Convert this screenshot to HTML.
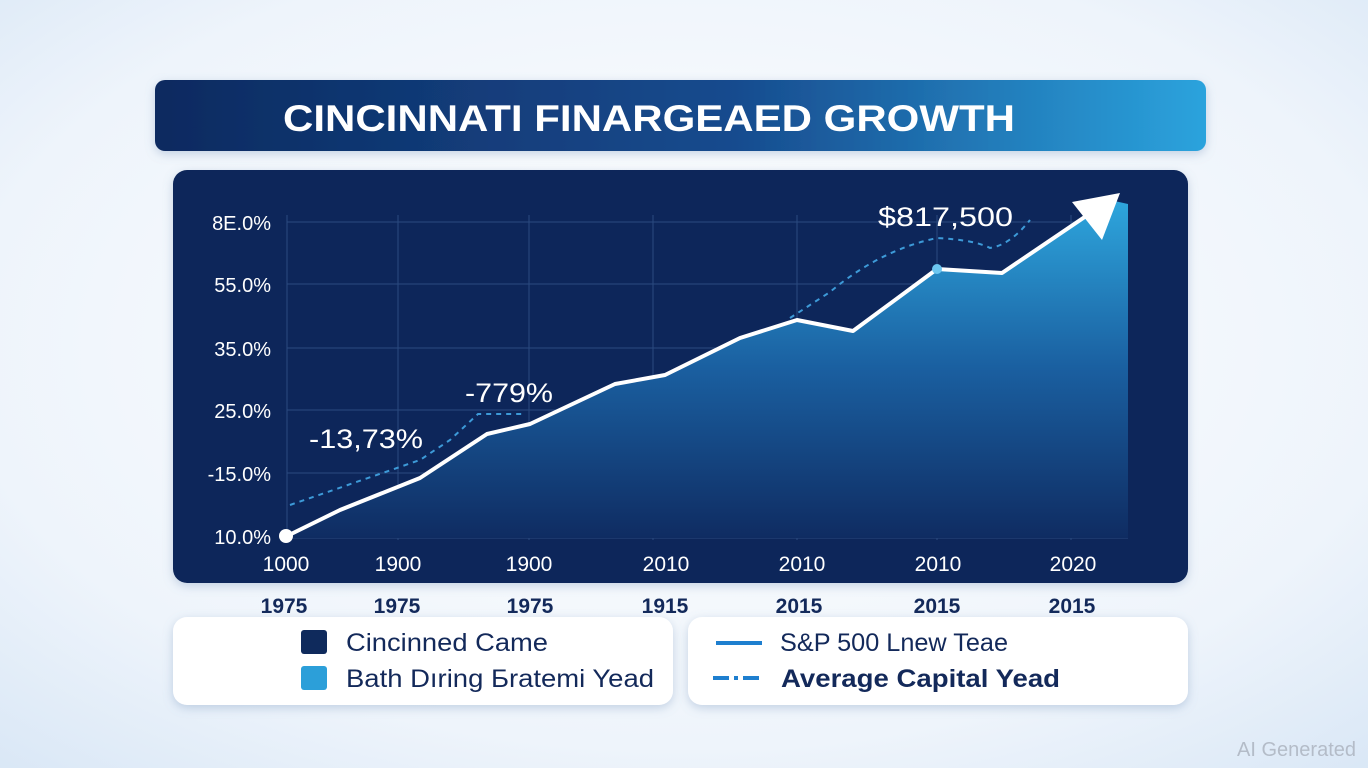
<!DOCTYPE html>
<html><head><meta charset="utf-8"><style>
body{margin:0;width:1368px;height:768px;overflow:hidden;font-family:"Liberation Sans",sans-serif;}
</style></head><body>
<svg width="1368" height="768" viewBox="0 0 1368 768" xmlns="http://www.w3.org/2000/svg">
<defs>
<radialGradient id="bg" cx="0.5" cy="0.45" r="0.75"><stop offset="0" stop-color="#ffffff"/><stop offset="0.7" stop-color="#eef4fb"/><stop offset="1" stop-color="#d9e7f6"/></radialGradient>
<linearGradient id="tb" x1="0" x2="1"><stop offset="0" stop-color="#0c2a60"/><stop offset="0.55" stop-color="#174b8e"/><stop offset="1" stop-color="#2ba3dd"/></linearGradient>
<linearGradient id="area" x1="0" y1="0" x2="0" y2="1"><stop offset="0" stop-color="#2ea6dd"/><stop offset="0.5" stop-color="#1a5fa0"/><stop offset="1" stop-color="#0f2c62"/></linearGradient>
<filter id="sh" x="-5%" y="-10%" width="110%" height="130%"><feDropShadow dx="0" dy="3" stdDeviation="5" flood-color="#6b8bb5" flood-opacity="0.35"/></filter>
</defs>
<rect width="1368" height="768" fill="url(#bg)"/>
<rect x="155" y="80" width="1051" height="71" rx="10" fill="url(#tb)" filter="url(#sh)"/>
<text x="283" y="131" fill="#fff" font-size="37" font-weight="bold" textLength="732" lengthAdjust="spacingAndGlyphs">CINCINNATI FINARGEAED GROWTH</text>
<rect x="173" y="170" width="1015" height="413" rx="14" fill="#0e285a" filter="url(#sh)"/>
<g stroke="#2a4a80" stroke-width="1">
<line x1="287" y1="215" x2="287" y2="540"/><line x1="398" y1="215" x2="398" y2="540"/><line x1="529" y1="215" x2="529" y2="540"/><line x1="653" y1="215" x2="653" y2="540"/><line x1="797" y1="215" x2="797" y2="540"/><line x1="937" y1="215" x2="937" y2="540"/><line x1="1071" y1="215" x2="1071" y2="540"/>
<line x1="287" y1="222" x2="1128" y2="222"/><line x1="287" y1="284" x2="1128" y2="284"/><line x1="287" y1="348" x2="1128" y2="348"/><line x1="287" y1="410" x2="1128" y2="410"/><line x1="287" y1="473" x2="1128" y2="473"/><line x1="287" y1="538" x2="1128" y2="538"/>
</g>
<path d="M287,536 L340,510 L420,478 L487,434 L530,424 L615,384 L665,375 L740,338 L797,320 L853,331 L937,269 L1002,273 L1110,200 L1128,204 L1128,538 L287,538 Z" fill="url(#area)"/>
<g fill="none" stroke="#3d9ad8" stroke-width="2" stroke-dasharray="5,5">
<path d="M290,505 L420,460 L450,440 L478,414 L525,414"/>
<path d="M790,318 L830,292 Q880,250 937,238 Q975,240 990,248 Q1010,245 1030,220"/>
</g>
<path d="M287,536 L340,510 L420,478 L487,434 L530,424 L615,384 L665,375 L740,338 L797,320 L853,331 L937,269 L1002,273 L1095,210" fill="none" stroke="#fff" stroke-width="4" stroke-linejoin="round"/>
<polygon points="1120,193 1072,202 1102,240" fill="#fff"/>
<circle cx="286" cy="536" r="7" fill="#fff"/>
<circle cx="937" cy="269" r="5" fill="#6cc6f0"/>
<g fill="#fff" font-size="20" text-anchor="end">
<text x="271" y="230">8E.0%</text><text x="271" y="292">55.0%</text><text x="271" y="356">35.0%</text><text x="271" y="418">25.0%</text><text x="271" y="481">-15.0%</text><text x="271" y="544">10.0%</text>
</g>
<g fill="#fff" font-size="27">
<text x="309" y="448" textLength="114" lengthAdjust="spacingAndGlyphs">-13,73%</text><text x="465" y="402" textLength="88" lengthAdjust="spacingAndGlyphs">-779%</text><text x="878" y="226" textLength="135" lengthAdjust="spacingAndGlyphs">$817,500</text>
</g>
<g fill="#fff" font-size="21" text-anchor="middle">
<text x="286" y="571">1000</text><text x="398" y="571">1900</text><text x="529" y="571">1900</text><text x="666" y="571">2010</text><text x="802" y="571">2010</text><text x="938" y="571">2010</text><text x="1073" y="571">2020</text>
</g>
<g fill="#13295a" font-size="21" font-weight="bold" text-anchor="middle">
<text x="284" y="613">1975</text><text x="397" y="613">1975</text><text x="530" y="613">1975</text><text x="665" y="613">1915</text><text x="799" y="613">2015</text><text x="937" y="613">2015</text><text x="1072" y="613">2015</text>
</g>
<rect x="173" y="617" width="500" height="88" rx="14" fill="#fff" filter="url(#sh)"/>
<rect x="688" y="617" width="500" height="88" rx="14" fill="#fff" filter="url(#sh)"/>
<rect x="301" y="630" width="26" height="24" rx="3" fill="#0f2a5c"/>
<rect x="301" y="666" width="26" height="24" rx="3" fill="#2c9fd9"/>
<g fill="#13295a" font-size="25">
<text x="346" y="651" textLength="202" lengthAdjust="spacingAndGlyphs">Cincinned Came</text><text x="346" y="687" textLength="308" lengthAdjust="spacingAndGlyphs">Bath Dıring Бratemi Yead</text>
<text x="780" y="651" textLength="228" lengthAdjust="spacingAndGlyphs">S&amp;P 500 Lnew Teae</text>
<text x="781" y="687" font-weight="bold" textLength="279" lengthAdjust="spacingAndGlyphs">Average Capital Yead</text>
</g>
<line x1="716" y1="643" x2="762" y2="643" stroke="#1e7fcf" stroke-width="4"/>
<line x1="713" y1="678" x2="762" y2="678" stroke="#1e7fcf" stroke-width="4" stroke-dasharray="16,5,4,5"/>
<text x="1356" y="756" fill="#b4bcc8" font-size="20" text-anchor="end">AI Generated</text>
</svg>
</body></html>
